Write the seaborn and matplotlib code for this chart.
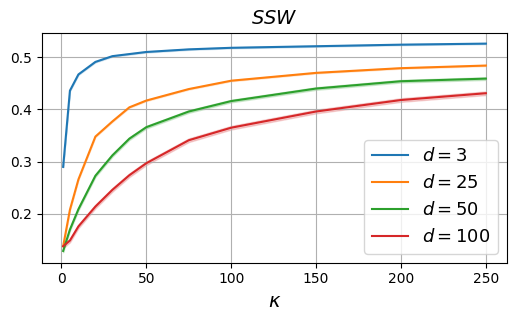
import numpy as np
import pandas as pd
import seaborn as sns
import matplotlib.pyplot as plt

# kappa values on the x axis
kappa = [1, 5, 10, 20, 30, 40, 50, 75, 100, 150, 200, 250]

# mean SSW per dimension
ssw_d3 = [0.290, 0.436, 0.467, 0.491, 0.502, 0.506, 0.510, 0.515, 0.518, 0.521, 0.524, 0.526]
ssw_d25 = [0.138, 0.208, 0.266, 0.348, 0.377, 0.404, 0.417, 0.439, 0.455, 0.470, 0.479, 0.484]
ssw_d50 = [0.129, 0.170, 0.209, 0.273, 0.312, 0.344, 0.366, 0.396, 0.416, 0.440, 0.454, 0.459]
ssw_d100 = [0.138, 0.149, 0.176, 0.214, 0.246, 0.274, 0.297, 0.341, 0.365, 0.396, 0.418, 0.431]

# half width of the shaded band per dimension
band_d3 = 0.001
band_d25 = 0.001
band_d50 = 0.0025
band_d100 = 0.0035

labels = ['$d=3$', '$d=25$', '$d=50$', '$d=100$']

# build long table with low / high replicate for each point
rows = []
for lab, vals, band in zip(labels, [ssw_d3, ssw_d25, ssw_d50, ssw_d100],
                           [band_d3, band_d25, band_d50, band_d100]):
    for k, v in zip(kappa, vals):
        rows.append({'kappa': k, 'ssw': v - band, 'd': lab})
        rows.append({'kappa': k, 'ssw': v + band, 'd': lab})
df = pd.DataFrame(rows)

fig, ax = plt.subplots(figsize=(5.16, 3.2), dpi=100)
sns.lineplot(data=df, x='kappa', y='ssw', hue='d', hue_order=labels,
             palette='tab10', errorbar=lambda x: (x.min(), x.max()), ax=ax)

ax.grid(True)
ax.set_title('$SSW$', fontsize=14)
ax.set_xlabel('$\\kappa$', fontsize=14)
ax.set_ylabel('')
ax.set_xticks([0, 50, 100, 150, 200, 250])
ax.set_yticks([0.2, 0.3, 0.4, 0.5])
ax.legend(loc='lower right', fontsize=13)

plt.subplots_adjust(left=0.0814, right=0.9826, top=0.898, bottom=0.179)
plt.savefig('out.png', dpi=100)
